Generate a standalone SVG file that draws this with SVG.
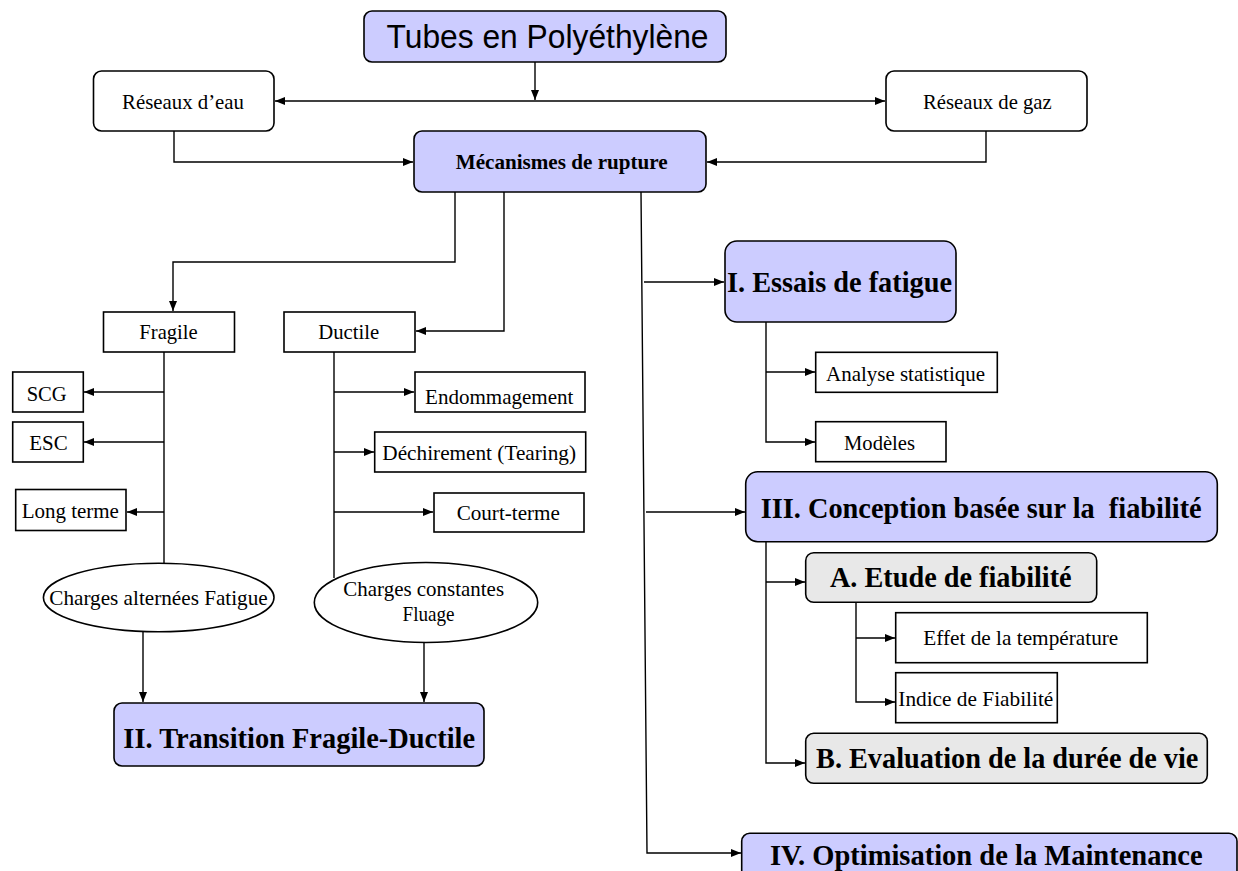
<svg xmlns="http://www.w3.org/2000/svg" width="1238" height="871" viewBox="0 0 1238 871">
<style>
.bx{stroke:#000;stroke-width:1.6;fill:#fff}
.lav{fill:#CCCCFF}
.gry{fill:#E8E8E8}
.t{font-family:"Liberation Serif","Times New Roman",serif;font-size:22px;fill:#000;text-anchor:middle}
.b{font-weight:bold}
.h{font-size:30px}
.m{font-size:21px}
.s{font-family:"Liberation Sans",Arial,sans-serif;font-size:33px;fill:#000;text-anchor:middle}
.c{fill:none;stroke:#000;stroke-width:1.4}
.a{marker-end:url(#ah)}
</style>
<defs>
<marker id="ah" markerUnits="userSpaceOnUse" markerWidth="11" markerHeight="9" refX="10" refY="4" orient="auto">
<path d="M0,0 L10,4 L0,8 z" fill="#000"/>
</marker>
</defs>
<rect width="1238" height="871" fill="#fff"/>
<g id="connectors">
<path class="c a" d="M535,62 V100"/>
<path class="c a" d="M535,101 H275"/>
<path class="c a" d="M535,101 H885"/>
<path class="c a" d="M174,131 V162 H413"/>
<path class="c a" d="M986,131 V162 H707"/>
<path class="c a" d="M455,192 V262 H173 V311"/>
<path class="c a" d="M504,192 V331 H416"/>
<path class="c a" d="M641,192 L647,853 H741"/>
<path class="c a" d="M644,282 H724"/>
<path class="c a" d="M646,512 H745"/>
<path class="c a" d="M766,322 V442 H815"/>
<path class="c a" d="M766,372 H815"/>
<path class="c a" d="M766,542 V763 H805"/>
<path class="c a" d="M766,582 H805"/>
<path class="c a" d="M856,602 V702 H895"/>
<path class="c a" d="M856,638 H895"/>
<path class="c" d="M164,352 V564"/>
<path class="c a" d="M164,392 H84"/>
<path class="c a" d="M164,442 H84"/>
<path class="c a" d="M164,512 H127"/>
<path class="c" d="M334,352 V578"/>
<path class="c a" d="M334,392 H414"/>
<path class="c a" d="M334,452 H374"/>
<path class="c a" d="M334,512 H433"/>
<path class="c a" d="M143,632 V702"/>
<path class="c a" d="M424,642 V702"/>
</g>
<g id="tubes"><rect class="bx lav" x="364" y="11" width="362" height="51" rx="8"/><text class="s" x="547.5" y="48" textLength="322" lengthAdjust="spacingAndGlyphs">Tubes en Polyéthylène</text></g>
<g id="reseaux-eau"><rect class="bx" x="93.5" y="71" width="180.5" height="60" rx="8"/><text class="t" x="183" y="108.5" textLength="122" lengthAdjust="spacingAndGlyphs">Réseaux d’eau</text></g>
<g id="reseaux-gaz"><rect class="bx" x="886" y="71" width="201" height="60" rx="8"/><text class="t" x="987.4" y="109" textLength="128.7" lengthAdjust="spacingAndGlyphs">Réseaux de gaz</text></g>
<g id="mecanismes"><rect class="bx lav" x="414" y="131" width="292" height="61" rx="8"/><text class="t b" x="561.7" y="169" textLength="212" lengthAdjust="spacingAndGlyphs">Mécanismes de rupture</text></g>
<g id="fragile"><rect class="bx" x="103.5" y="312" width="131" height="40"/><text class="t" x="168.5" y="338.5" textLength="58.4" lengthAdjust="spacingAndGlyphs">Fragile</text></g>
<g id="ductile"><rect class="bx" x="284" y="312" width="131" height="40"/><text class="t" x="348.8" y="338.5" textLength="61" lengthAdjust="spacingAndGlyphs">Ductile</text></g>
<g id="scg"><rect class="bx" x="12.7" y="372" width="70.6" height="40"/><text class="t" x="46.7" y="400.5" textLength="40" lengthAdjust="spacingAndGlyphs">SCG</text></g>
<g id="esc"><rect class="bx" x="12.7" y="422" width="70.6" height="40"/><text class="t" x="48.5" y="450" textLength="38.4" lengthAdjust="spacingAndGlyphs">ESC</text></g>
<g id="long-terme"><rect class="bx" x="15.7" y="489.5" width="110.3" height="41"/><text class="t" x="70.3" y="518" textLength="97.3" lengthAdjust="spacingAndGlyphs">Long terme</text></g>
<g id="endommagement"><rect class="bx" x="415" y="372" width="170" height="40"/><text class="t" x="499.2" y="404" textLength="148.3" lengthAdjust="spacingAndGlyphs">Endommagement</text></g>
<g id="dechirement"><rect class="bx" x="374.7" y="432" width="211" height="40"/><text class="t" x="479.2" y="459.5" textLength="193.7" lengthAdjust="spacingAndGlyphs">Déchirement (Tearing)</text></g>
<g id="court-terme"><rect class="bx" x="434" y="493" width="150" height="39"/><text class="t" x="508.3" y="520" textLength="103.3" lengthAdjust="spacingAndGlyphs">Court-terme</text></g>
<g id="charges-alternees"><ellipse class="bx" cx="158.7" cy="597.5" rx="115.3" ry="34.2"/><text class="t" x="158.5" y="605" textLength="218.4" lengthAdjust="spacingAndGlyphs">Charges alternées Fatigue</text></g>
<g id="charges-constantes"><ellipse class="bx" cx="426" cy="602.5" rx="111.7" ry="40"/><text class="t m" x="423.7" y="596" textLength="160.7" lengthAdjust="spacingAndGlyphs">Charges constantes</text><text class="t m" x="428.5" y="620.5" textLength="52" lengthAdjust="spacingAndGlyphs">Fluage</text></g>
<g id="transition"><rect class="bx lav" x="114" y="703" width="370" height="63" rx="8"/><text class="t b h" x="299.2" y="748.3" textLength="351.7" lengthAdjust="spacingAndGlyphs">II. Transition Fragile-Ductile</text></g>
<g id="essais"><rect class="bx lav" x="725" y="241" width="231" height="81" rx="12"/><text class="t b h" x="839.5" y="292" textLength="225" lengthAdjust="spacingAndGlyphs">I. Essais de fatigue</text></g>
<g id="analyse"><rect class="bx" x="815.7" y="352.3" width="181.6" height="40"/><text class="t" x="905.5" y="380.7" textLength="159" lengthAdjust="spacingAndGlyphs">Analyse statistique</text></g>
<g id="modeles"><rect class="bx" x="815.7" y="421.7" width="130.3" height="40"/><text class="t" x="879.5" y="450" textLength="71" lengthAdjust="spacingAndGlyphs">Modèles</text></g>
<g id="conception"><rect class="bx lav" x="745.7" y="471.7" width="471.6" height="70" rx="12"/><text class="t b h" x="981.2" y="517.7" textLength="441" lengthAdjust="spacingAndGlyphs" xml:space="preserve">III. Conception basée sur la  fiabilité</text></g>
<g id="etude"><rect class="bx gry" x="805.7" y="552.7" width="291" height="49.6" rx="8"/><text class="t b h" x="950.8" y="587.3" textLength="241.7" lengthAdjust="spacingAndGlyphs">A. Etude de fiabilité</text></g>
<g id="effet"><rect class="bx" x="895.7" y="612.7" width="251.6" height="50"/><text class="t" x="1020.8" y="645" textLength="195" lengthAdjust="spacingAndGlyphs">Effet de la température</text></g>
<g id="indice"><rect class="bx" x="895.7" y="672.7" width="161.6" height="50"/><text class="t" x="975.8" y="705.7" textLength="155" lengthAdjust="spacingAndGlyphs">Indice de Fiabilité</text></g>
<g id="evaluation"><rect class="bx gry" x="805.7" y="733.3" width="401.6" height="50" rx="8"/><text class="t b h" x="1007.2" y="768.3" textLength="382.3" lengthAdjust="spacingAndGlyphs">B. Evaluation de la durée de vie</text></g>
<g id="optimisation"><rect class="bx lav" x="741.7" y="833.3" width="495.3" height="50" rx="8"/><text class="t b h" x="986.3" y="865" textLength="432.7" lengthAdjust="spacingAndGlyphs">IV. Optimisation de la Maintenance</text></g>
</svg>
